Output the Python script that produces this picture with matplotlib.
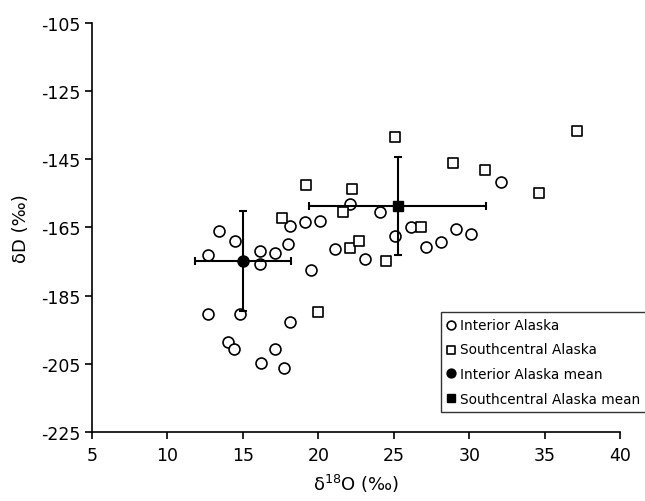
import matplotlib
matplotlib.use("Agg")
import matplotlib.pyplot as plt

plt.rcParams["axes.unicode_minus"] = False

# ---- data ----
interior_x = [12.7, 13.4, 12.7, 14.0, 14.4, 14.5, 14.8, 16.1, 16.1, 16.2,
              17.1, 17.1, 17.7, 18.0, 18.1, 18.1, 19.1, 19.5, 20.1, 21.1,
              22.1, 23.1, 24.1, 25.1, 26.1, 27.1, 28.1, 29.1, 30.1, 32.1]
interior_y = [-173.0, -166.0, -190.3, -198.6, -200.8, -169.1, -190.4, -172.0, -175.7, -204.8,
              -172.5, -200.6, -206.2, -169.9, -164.6, -192.8, -163.3, -177.6, -163.0, -171.3,
              -158.0, -174.2, -160.5, -167.5, -164.9, -170.7, -169.3, -165.5, -167.0, -151.6]

south_x = [17.6, 19.2, 21.6, 22.2, 22.1, 22.7, 24.5, 25.1, 26.8, 28.9, 31.0, 34.6, 37.1, 20.0]
south_y = [-162.2, -152.6, -160.4, -153.8, -171.0, -169.0, -174.9, -138.4, -165.0, -146.2,
           -148.0, -154.8, -136.7, -189.9]

interior_mean = (15.0, -174.8)
interior_err = (3.15, 14.7)      # (x sd, y sd)
south_mean = (25.25, -158.6)
south_err = (5.85, 14.4)

xticks = [5, 10, 15, 20, 25, 30, 35, 40]
yticks = [-225, -205, -185, -165, -145, -125, -105]

fig = plt.figure(figsize=(6.45, 5.02), dpi=100)
ax = fig.add_axes([0.1426, 0.1375, 0.8194, 0.8147])

ax.scatter(interior_x, interior_y, s=62, facecolors="white", edgecolors="black",
           linewidths=1.2, zorder=3, label="Interior Alaska")
ax.scatter(south_x, south_y, s=55, marker="s", facecolors="white", edgecolors="black",
           linewidths=1.2, zorder=3, label="Southcentral Alaska")
eb1 = ax.errorbar(interior_mean[0], interior_mean[1], xerr=interior_err[0], yerr=interior_err[1],
                  fmt="o", color="black", ms=8, elinewidth=1.5, capsize=3, capthick=1.5,
                  zorder=4, label="Interior Alaska mean")
eb2 = ax.errorbar(south_mean[0], south_mean[1], xerr=south_err[0], yerr=south_err[1],
                  fmt="s", color="black", ms=7.5, elinewidth=1.5, capsize=3, capthick=1.5,
                  zorder=4, label="Southcentral Alaska mean")

ax.set_xlim(5, 40)
ax.set_ylim(-225, -105)
ax.set_xticks(xticks)
ax.set_yticks(yticks)
ax.tick_params(labelsize=12.5, direction="out", length=5, width=1.2)
ax.tick_params(axis="x", pad=5)
for s in ("top", "right"):
    ax.spines[s].set_visible(False)
for s in ("left", "bottom"):
    ax.spines[s].set_linewidth(1.2)

ax.set_xlabel("δ$^{18}$O (‰)", fontsize=13, labelpad=6)
ax.set_ylabel("δD (‰)", fontsize=13, labelpad=8)

# legend shows markers only (no error bars)
handles, labels = ax.get_legend_handles_labels()
handles = handles[:2] + [eb1[0], eb2[0]]
leg = fig.legend(handles, labels, loc="upper left", bbox_to_anchor=(0.684, 0.377),
                 fontsize=9.8, frameon=True, fancybox=False, edgecolor="black",
                 handlelength=0.6, handletextpad=0.35, labelspacing=0.78,
                 borderpad=0.45, borderaxespad=0, markerscale=0.8)
leg.get_frame().set_linewidth(1.0)

fig.savefig("out.png", dpi=100)
